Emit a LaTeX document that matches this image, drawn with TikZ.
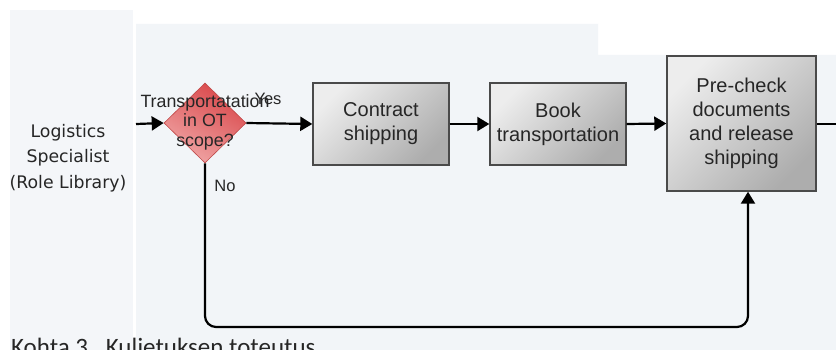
\documentclass[tikz,border=0pt]{standalone}
\usepackage{fontspec}
\setmainfont{Liberation Sans}
\newfontfamily\rolefont{DejaVu Sans}
\newfontfamily\captionfont{Carlito}
\usetikzlibrary{arrows.meta,shapes.geometric}

\definecolor{lanebg}{HTML}{F2F5F8}
\definecolor{rolebg}{HTML}{F4F6F9}
\definecolor{boxedge}{HTML}{4A4A4A}
\definecolor{boxlight}{HTML}{EDEDED}
\definecolor{boxdark}{HTML}{ADADAD}
\definecolor{dectop}{HTML}{D9474A}
\definecolor{decbot}{HTML}{F0A6A6}
\definecolor{decedge}{HTML}{C04848}
\definecolor{txt}{HTML}{262626}

\tikzset{
  task/.style={draw=boxedge, line width=1.4pt, rectangle,
    top color=boxlight, bottom color=boxdark, shading angle=45,
    text=txt, align=center, inner sep=0pt,
    font=\fontsize{20}{24}\selectfont},
  decision/.style={diamond, draw=decedge, line width=0.6pt,
    top color=dectop, bottom color=decbot, shading angle=-30,
    minimum width=82pt, minimum height=80pt, inner sep=0pt},
  dectext/.style={text=txt, align=center, inner sep=0pt,
    font=\fontsize{17.8}{19.5}\selectfont},
  flow/.style={draw=black, line width=2.2pt,
    -{Triangle[length=12pt,width=14pt]}},
  edgelabel/.style={text=txt, inner sep=0pt, font=\fontsize{16.5}{19}\selectfont}
}

\begin{document}
\begin{tikzpicture}[x=1pt,y=-1pt]
  \useasboundingbox (0,0) rectangle (836,350);
  \clip (0,0) rectangle (836,350);
  \fill[white] (0,0) rectangle (836,350);

  % swimlane backgrounds
  \fill[rolebg] (10,10) rectangle (133,350);
  \fill[lanebg] (136,24) -- (598,24) -- (598,55) -- (836,55)
                -- (836,350) -- (136,350) -- cycle;

  % role header
  \node[text=txt, align=center, inner sep=0pt,
        font=\rolefont\fontsize{17.3}{25.5}\selectfont] (role) at (68,158)
        {Logistics\\Specialist\\(Role Library)};

  % decision
  \node[decision] (dec) at (205,123) {};
  \node[dectext] (dectxt) at (205,122) {Transportatation\\in OT\\scope?};

  % tasks
  \node[task, minimum width=136pt, minimum height=82pt] (contract) at (381,124)
        {Contract\\shipping};
  \node[task, minimum width=136pt, minimum height=82pt] (book) at (558,124)
        {Book\\transportation};
  \node[task, minimum width=149pt, minimum height=135pt] (precheck) at (741.5,123.5)
        {Pre-check\\documents\\and release\\shipping};

  % free ends
  \coordinate (in) at (136,124);
  \coordinate (out) at (840,124);

  % connectors
  \draw[flow] (in) -- (dec.west);
  \draw[flow] (dec.east) -- (contract.west);
  \draw[flow] (contract.east) -- (book.west);
  \draw[flow] (book.east) -- (precheck.west);
  \draw[draw=black, line width=2.2pt] (precheck.east |- out) -- (out);
  \draw[flow, rounded corners=11pt] (dec.south) -- (205,327) -- (748,327)
        -- (precheck.south -| 748,0);

  % branch labels
  \node[edgelabel] (yes) at (268,99) {Yes};
  \node[edgelabel] (no) at (225,186) {No};

  % caption, cut by the lower edge
  \node[anchor=base west, inner sep=0pt, text=txt,
        font=\captionfont\fontsize{25}{30}\selectfont] (caption) at (11,355)
        {Kohta 3.\ \ Kuljetuksen toteutus};
\end{tikzpicture}
\end{document}
